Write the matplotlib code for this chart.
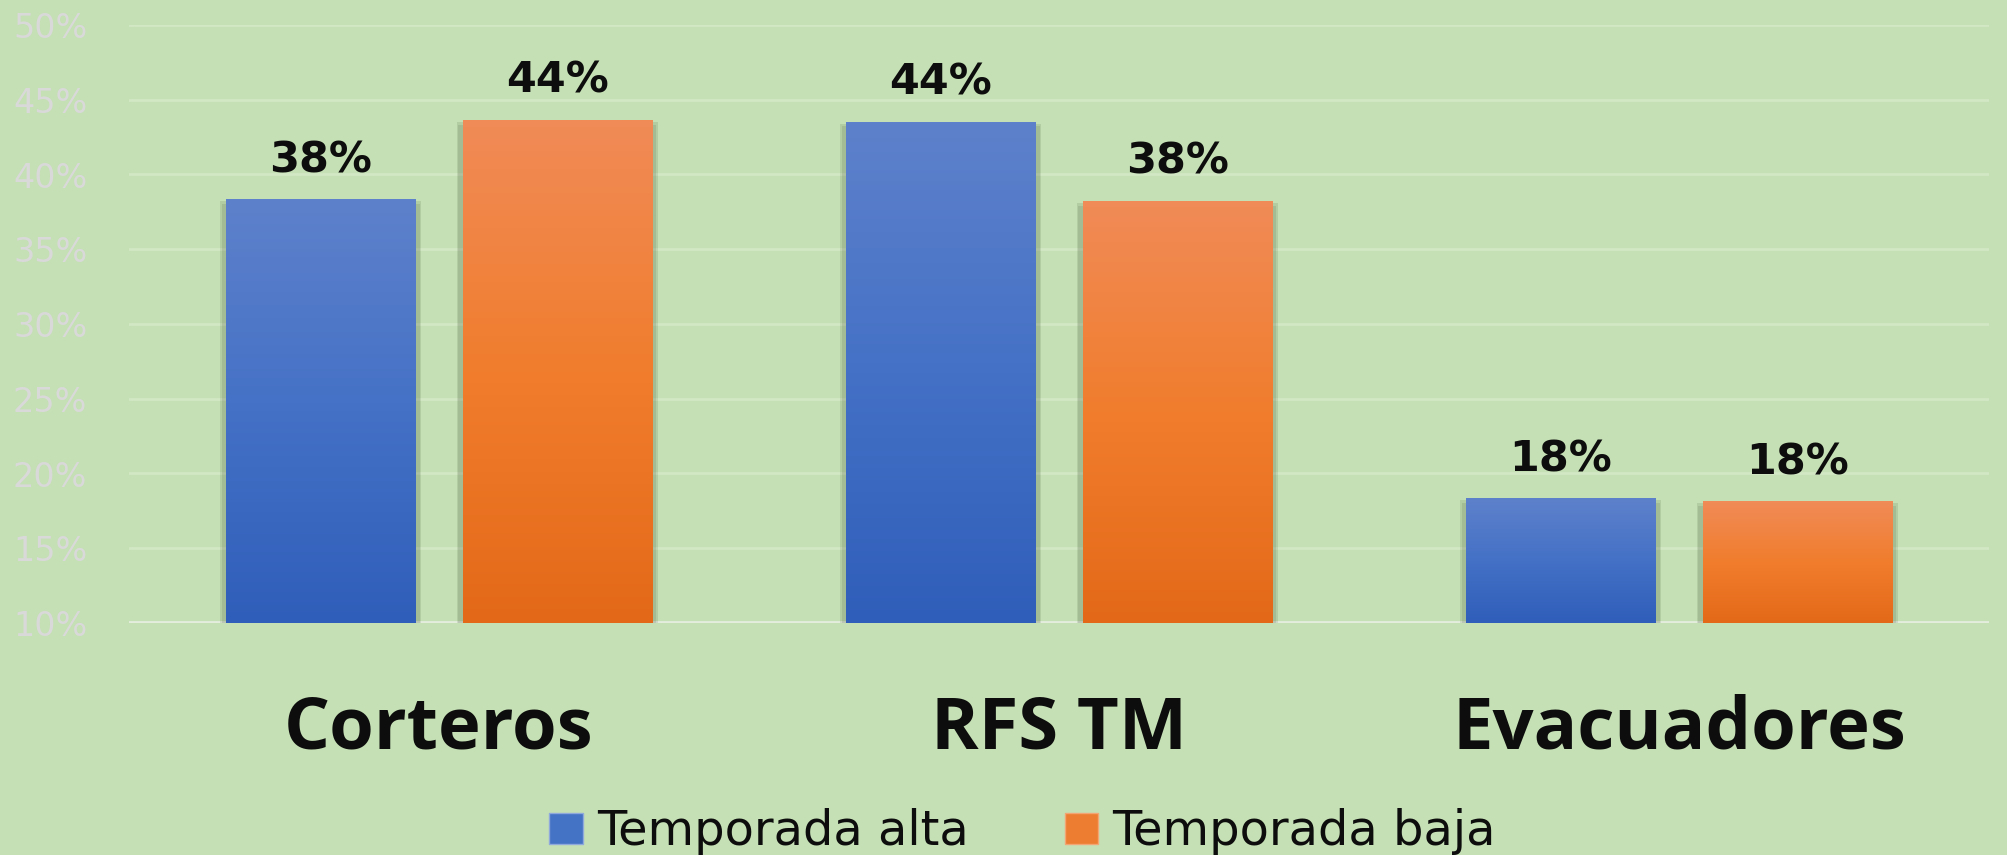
import numpy as np
import matplotlib
matplotlib.use("Agg")
import matplotlib.pyplot as plt
import matplotlib.patheffects as pe
from matplotlib.colors import LinearSegmentedColormap
from matplotlib.patches import Patch

# data
categories = ['Corteros', 'RFS TM', 'Evacuadores']
series_names = ['Temporada alta', 'Temporada baja']
alta = [0.383, 0.435, 0.183]
baja = [0.436, 0.382, 0.181]
y_ticks = [0.10, 0.15, 0.20, 0.25, 0.30, 0.35, 0.40, 0.45, 0.50]

bg = '#c5e0b4'
blue_stops = ['#2f5eba', '#4471c6', '#5e81cb']     # bottom -> top
orange_stops = ['#e36918', '#f17d2d', '#f08b57']

fig = plt.figure(figsize=(20.08, 8.55), dpi=100, facecolor=bg)
ax = fig.add_axes([129 / 2008, (855 - 623) / 855, 1860 / 2008, 598 / 855])
ax.set_facecolor(bg)

x = np.arange(len(categories))
w = 0.306
off = 0.191
ymin, ymax = 0.10, 0.50

# soft shadow: a few faint offset copies of each bar
shadow = [pe.SimplePatchShadow(offset=o, shadow_rgbFace='#1a2a10', alpha=0.10)
          for o in [(-3, -3), (3, -3), (0, -5), (4, -1), (-4, -1)]] + [pe.Normal()]

bars_alta = ax.bar(x - off, alta, w, color='#4472c4', zorder=3, path_effects=shadow)
bars_baja = ax.bar(x + off, baja, w, color='#ed7d31', zorder=3, path_effects=shadow)

# vertical gradient on every bar
grad = np.linspace(0, 1, 256).reshape(-1, 1)
for bars, stops in [(bars_alta, blue_stops), (bars_baja, orange_stops)]:
    cmap = LinearSegmentedColormap.from_list('g', stops)
    for b in bars:
        x0 = b.get_x()
        ax.imshow(grad, extent=[x0, x0 + b.get_width(), ymin, b.get_height()],
                  origin='lower', cmap=cmap, aspect='auto', zorder=4)

# value labels
for bars in [bars_alta, bars_baja]:
    for b in bars:
        ax.annotate(f'{b.get_height() * 100:.0f}%',
                    (b.get_x() + b.get_width() / 2, b.get_height()),
                    xytext=(0, 20), textcoords='offset points',
                    ha='center', va='baseline', fontsize=31, fontweight='bold',
                    family='DejaVu Sans', color='#0d0d0d')

ax.set_xlim(-0.5, 2.5)
ax.set_ylim(ymin, ymax)
ax.set_yticks(y_ticks)
ax.set_yticklabels([f'{v * 100:.0f}%' for v in y_ticks], fontsize=24,
                   color='#d9d9d9', family='DejaVu Sans')
ax.tick_params(axis='y', length=0, pad=30)
ax.set_xticks([])
ax.yaxis.grid(True, color='#d2e7c4', linewidth=2, zorder=0)
ax.set_axisbelow(True)
for s in ax.spines.values():
    s.set_visible(False)
ax.axhline(ymin, color='#e4ecdc', linewidth=3.5, zorder=2)

# category labels under the groups
for xi, cat in zip(x, categories):
    ax.text(xi, -0.2107, cat, transform=ax.get_xaxis_transform(), ha='center',
            va='baseline', fontsize=52, fontweight='bold', family='Open Sans',
            color='#0d0d0d')

handles = [Patch(facecolor='#4472c4', edgecolor='#8fa9dc', linewidth=1),
           Patch(facecolor='#ed7d31', edgecolor='#f3a673', linewidth=1)]
leg = fig.legend(handles=handles, labels=series_names, loc='center',
                 bbox_to_anchor=(0.5092, 0.027), ncol=2, frameon=False,
                 prop={'family': 'DejaVu Sans', 'size': 34.5},
                 handlelength=0.7, handleheight=0.62, handletextpad=0.3,
                 columnspacing=2.0, borderpad=0)
for t in leg.get_texts():
    t.set_color('#0d0d0d')

fig.savefig('out.png', dpi=100, facecolor=bg)
